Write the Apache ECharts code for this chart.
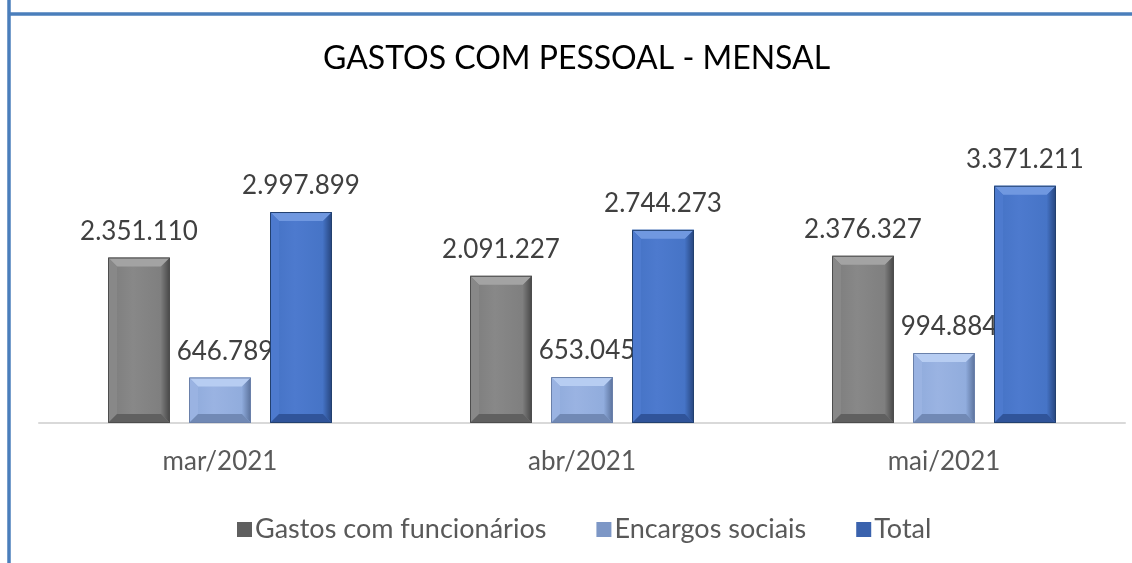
<!DOCTYPE html>
<html>
<head>
<meta charset="utf-8">
<script src="https://cdn.jsdelivr.net/npm/echarts@6/dist/echarts.min.js"></script>
<style>
html,body{margin:0;padding:0;background:#fff;}
#chart{width:1132px;height:563px;}
</style>
</head>
<body>
<div id="chart"></div>
<script>
const categories = ['mar/2021', 'abr/2021', 'mai/2021'];
const seriesNames = ['Gastos com funcionários', 'Encargos sociais', 'Total'];
const gastosFuncionarios = [2351110, 2091227, 2376327];
const encargosSociais = [646789, 653045, 994884];
const total = [2997899, 2744273, 3371211];
const titleText = 'GASTOS COM PESSOAL - MENSAL';

const FONT = 'Lato';
const BAR_W = 62;
const palettes = [
  {face:'#7c7c7c', top:'#a3a3a3', left:'#888888', right:'#464646', bottom:'#606060', edge:'#4d4d4d', legend:'#5f5f5f'},
  {face:'#8eaadb', top:'#b7cdf2', left:'#9ab3e2', right:'#5a719b', bottom:'#7189b5', edge:'#6a80aa', legend:'#7d97c6'},
  {face:'#4472c4', top:'#7098e0', left:'#4d7ace', right:'#26447c', bottom:'#30549a', edge:'#22406f', legend:'#3a62ad'}
];
const offsets = [-81, 0, 81];
const labelDx = [0, 5, 0];

function fmt(v){ return String(v).replace(/\B(?=(\d{3})+(?!\d))/g, '.'); }

function makeRender(si){
  const p = palettes[si];
  return function(params, api){
    const idx = api.value(0), val = api.value(1);
    const base = api.coord([idx, 0]);
    const topPt = api.coord([idx, val]);
    const cx = base[0] + offsets[si];
    const x0 = cx - BAR_W/2, x1 = cx + BAR_W/2;
    const y0 = topPt[1], y1 = base[1];
    const b = Math.min(9, (y1 - y0)/2);
    const children = [
      {type:'rect', shape:{x:x0, y:y0, width:BAR_W, height:y1-y0}, style:{fill:{type:'linear', x:0, y:0, x2:1, y2:0,
        colorStops:[{offset:0, color:p.face},{offset:0.4, color:p.left},{offset:1, color:p.face}]}}},
      {type:'polygon', shape:{points:[[x0,y0],[x1,y0],[x1-b,y0+b],[x0+b,y0+b]]}, style:{fill:p.top}},
      {type:'polygon', shape:{points:[[x0,y0],[x0+b,y0+b],[x0+b,y1-b],[x0,y1]]}, style:{fill:p.left}},
      {type:'polygon', shape:{points:[[x1,y0],[x1,y1],[x1-b,y1-b],[x1-b,y0+b]]}, style:{fill:{type:'linear', x:0, y:0, x2:1, y2:0,
        colorStops:[{offset:0, color:p.face},{offset:1, color:p.right}]}}},
      {type:'polygon', shape:{points:[[x0,y1],[x0+b,y1-b],[x1-b,y1-b],[x1,y1]]}, style:{fill:p.bottom}},
      {type:'rect', shape:{x:x0+0.5, y:y0+0.5, width:BAR_W-1, height:y1-y0-1}, style:{fill:null, stroke:p.edge, lineWidth:1}},
      {type:'text', style:{text:fmt(val), x:cx + labelDx[si], y:y0-13, align:'center', verticalAlign:'bottom',
        fill:'#404040', fontSize:26, fontFamily:FONT}}
    ];
    return {type:'group', children};
  };
}

const dataSets = [gastosFuncionarios, encargosSociais, total];
const chart = echarts.init(document.getElementById('chart'), null, {renderer:'canvas'});
chart.setOption({
  animation:false,
  backgroundColor:'#ffffff',
  title:{text:titleText, left:318, top:38, textStyle:{fontFamily:FONT, fontSize:32, fontWeight:'normal', color:'#000000'}},
  legend:{
    data:seriesNames.map((n, i) => ({name:n, itemStyle:{color:palettes[i].legend}})),
    left:232, top:511, itemWidth:15, itemHeight:15, itemGap:50, icon:'rect',
    textStyle:{fontFamily:FONT, fontSize:27, color:'#595959', padding:[0,0,0,-2]}
  },
  grid:{left:39, right:7, top:141.5, bottom:140, containLabel:false},
  xAxis:{type:'category', data:categories,
    axisLine:{show:true, lineStyle:{color:'#d9d9d9', width:2}},
    axisTick:{show:false},
    axisLabel:{color:'#595959', fontFamily:FONT, fontSize:26, margin:26}
  },
  yAxis:{type:'value', min:0, max:4000000, show:false, splitLine:{show:false}},
  graphic:[
    {type:'line', shape:{x1:9, y1:0, x2:9, y2:563}, style:{stroke:'#4a7ebb', lineWidth:3.5}, z:100},
    {type:'line', shape:{x1:9, y1:14, x2:1132, y2:14}, style:{stroke:'#4a7ebb', lineWidth:3.5}, z:100}
  ],
  series: seriesNames.map((name, si) => ({
    name, type:'custom', renderItem:makeRender(si),
    itemStyle:{color:palettes[si].face},
    encode:{x:0, y:1},
    data: dataSets[si].map((v, i) => [i, v])
  }))
});
</script>
</body>
</html>
